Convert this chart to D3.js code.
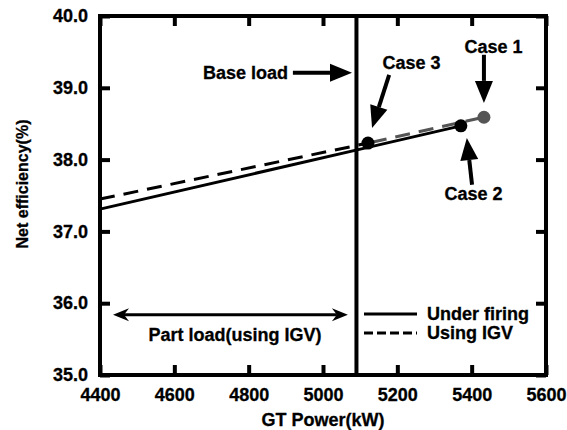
<!DOCTYPE html>
<html>
<head>
<meta charset="utf-8">
<script src="https://cdn.jsdelivr.net/npm/d3@7"></script>
<style>
  body { margin: 0; background: #fff; }
  text { font-family: "Liberation Sans", Arial, sans-serif; font-weight: bold; fill: #000; stroke: #000; stroke-width: 0.3px; }
</style>
</head>
<body>
<div id="chart"></div>
<script>
// data
const xTicks = [4400, 4600, 4800, 5000, 5200, 5400, 5600];
const yTicks = [35, 36, 37, 38, 39, 40];

const underFiring = [[4400, 37.31], [5121, 38.17], [5371, 38.47]];
const usingIgvPart = [[4400, 37.45], [5121, 38.23]];
const usingIgvOver = [[5121, 38.23], [5433, 38.59]];

const baseLoad = 5090;

const cases = [
  { name: "Case 1", x: 5433, y: 38.59, color: "#555" },
  { name: "Case 2", x: 5371, y: 38.47, color: "#000" },
  { name: "Case 3", x: 5121, y: 38.23, color: "#000" },
];

// annotation arrows: [from, to] in data units
const arrows = [
  { from: [5433, 39.46], to: [5433, 38.79] }, // case 1
  { from: [5401, 37.65], to: [5387, 38.30] }, // case 2
  { from: [5178, 39.18], to: [5132, 38.44] }, // case 3
  { from: [4919, 39.21], to: [5078, 39.21] }, // base load
];
const labels = [
  { text: "Case 1", x: 5459, y: 39.58, anchor: "middle" },
  { text: "Case 2", x: 5405, y: 37.53, anchor: "middle" },
  { text: "Case 3", x: 5238, y: 39.35, anchor: "middle" },
  { text: "Base load", x: 4906, y: 39.21, anchor: "end" },
  { text: "Part load(using IGV)", x: 4763, y: 35.56, anchor: "middle" },
];
const partLoadSpan = [[4435, 35.84], [5067, 35.84]];

const width = 567;
const height = 430;
const margin = { top: 16, right: 21, bottom: 55, left: 100 };

const svg = d3
  .select("#chart")
  .append("svg")
  .attr("width", width)
  .attr("height", height);

const x = d3
  .scaleLinear()
  .domain([4400, 5600])
  .range([margin.left, width - margin.right]);

const y = d3
  .scaleLinear()
  .domain([35, 40])
  .range([height - margin.bottom, margin.top]);

// axes, ticks pointing inwards
function styleAxis(g) {
  g.select(".domain").remove();
  g.selectAll(".tick line").attr("stroke", "#000").attr("stroke-width", 4);
  g.selectAll(".tick text").style("font-size", "18px").attr("fill", "#000");
}

svg
  .append("g")
  .attr("transform", `translate(0, ${y(35)})`)
  .call(
    d3
      .axisBottom(x)
      .tickValues(xTicks)
      .tickSizeInner(-10)
      .tickSizeOuter(0)
      .tickPadding(13)
      .tickFormat(d3.format("d"))
  )
  .call(styleAxis);

svg
  .append("g")
  .attr("transform", `translate(0, ${y(40)})`)
  .call(d3.axisTop(x).tickValues(xTicks).tickSizeInner(-10).tickSizeOuter(0).tickFormat(""))
  .call(styleAxis);

svg
  .append("g")
  .attr("transform", `translate(${x(4400)}, 0)`)
  .call(
    d3
      .axisLeft(y)
      .tickValues(yTicks)
      .tickSizeInner(-10)
      .tickSizeOuter(0)
      .tickPadding(12)
      .tickFormat(d3.format(".1f"))
  )
  .call(styleAxis);

svg
  .append("g")
  .attr("transform", `translate(${x(5600)}, 0)`)
  .call(d3.axisRight(y).tickValues(yTicks).tickSizeInner(-10).tickSizeOuter(0).tickFormat(""))
  .call(styleAxis);

// frame
svg
  .append("rect")
  .attr("x", x(4400))
  .attr("y", y(40))
  .attr("width", x(5600) - x(4400))
  .attr("height", y(35) - y(40))
  .attr("fill", "none")
  .attr("stroke", "#000")
  .attr("stroke-width", 4);

// base load line
svg
  .append("line")
  .attr("x1", x(baseLoad))
  .attr("x2", x(baseLoad))
  .attr("y1", y(40))
  .attr("y2", y(35))
  .attr("stroke", "#000")
  .attr("stroke-width", 4);

// series
const line = d3
  .line()
  .x((d) => x(d[0]))
  .y((d) => y(d[1]));

svg
  .append("path")
  .datum(underFiring)
  .attr("d", line)
  .attr("fill", "none")
  .attr("stroke", "#000")
  .attr("stroke-width", 3);

svg
  .append("path")
  .datum(usingIgvPart)
  .attr("d", line)
  .attr("fill", "none")
  .attr("stroke", "#000")
  .attr("stroke-width", 3)
  .attr("stroke-dasharray", "15,9");

svg
  .append("path")
  .datum(usingIgvOver)
  .attr("d", line)
  .attr("fill", "none")
  .attr("stroke", "#555")
  .attr("stroke-width", 3)
  .attr("stroke-dasharray", "15,9")
  .attr("stroke-dashoffset", -4);

// case points
svg
  .append("g")
  .selectAll("circle")
  .data(cases)
  .join("circle")
  .attr("cx", (d) => x(d.x))
  .attr("cy", (d) => y(d.y))
  .attr("r", 6.5)
  .attr("fill", (d) => d.color);

// arrows
function arrowHead(g, px, py, qx, qy, len, wid, notch) {
  // head with tip at q, coming from p
  const dx = qx - px;
  const dy = qy - py;
  const L = Math.hypot(dx, dy);
  const ux = dx / L;
  const uy = dy / L;
  const bx = qx - ux * len;
  const by = qy - uy * len;
  const pts = [
    [qx, qy],
    [bx - uy * wid / 2, by + ux * wid / 2],
    [bx + ux * notch, by + uy * notch],
    [bx + uy * wid / 2, by - ux * wid / 2],
  ];
  g.append("polygon").attr("points", pts.map((p) => p.join(",")).join(" ")).attr("fill", "#000");
  return [bx + ux * notch, by + uy * notch];
}

const arrowG = svg.append("g");
arrows.forEach((a) => {
  const px = x(a.from[0]);
  const py = y(a.from[1]);
  const qx = x(a.to[0]);
  const qy = y(a.to[1]);
  const base = arrowHead(arrowG, px, py, qx, qy, 22, 18, 0);
  arrowG
    .append("line")
    .attr("x1", px)
    .attr("y1", py)
    .attr("x2", base[0])
    .attr("y2", base[1])
    .attr("stroke", "#000")
    .attr("stroke-width", 4);
});

// double arrow for part load
{
  const ax = x(partLoadSpan[0][0]);
  const ay = y(partLoadSpan[0][1]);
  const bx = x(partLoadSpan[1][0]);
  const by = y(partLoadSpan[1][1]);
  const b1 = arrowHead(arrowG, bx, by, ax, ay, 16, 13, 5);
  const b2 = arrowHead(arrowG, ax, ay, bx, by, 16, 13, 5);
  arrowG
    .append("line")
    .attr("x1", b1[0])
    .attr("y1", b1[1])
    .attr("x2", b2[0])
    .attr("y2", b2[1])
    .attr("stroke", "#000")
    .attr("stroke-width", 3);
}

// labels
svg
  .append("g")
  .selectAll("text")
  .data(labels)
  .join("text")
  .attr("x", (d) => x(d.x))
  .attr("y", (d) => y(d.y))
  .attr("dy", "0.36em")
  .attr("text-anchor", (d) => d.anchor)
  .style("font-size", "18px")
  .text((d) => d.text);

// legend
const legend = svg.append("g");
const legendItems = [
  { label: "Under firing", dash: null, y: 314 },
  { label: "Using IGV", dash: "9,4", y: 333 },
];
legendItems.forEach((d) => {
  legend
    .append("line")
    .attr("x1", 364)
    .attr("x2", 417)
    .attr("y1", d.y)
    .attr("y2", d.y)
    .attr("stroke", "#000")
    .attr("stroke-width", 3)
    .attr("stroke-dasharray", d.dash);
  legend
    .append("text")
    .attr("x", 427)
    .attr("y", d.y)
    .attr("dy", "0.36em")
    .style("font-size", "18px")
    .text(d.label);
});

// axis titles
svg
  .append("text")
  .attr("x", (x(4400) + x(5600)) / 2)
  .attr("y", 420)
  .attr("dy", "0.36em")
  .attr("text-anchor", "middle")
  .style("font-size", "18px")
  .text("GT Power(kW)");

svg
  .append("text")
  .attr("transform", "translate(22, 184) rotate(-90)")
  .attr("dy", "0.36em")
  .attr("text-anchor", "middle")
  .style("font-size", "16px")
  .text("Net efficiency(%)");
</script>
</body>
</html>
